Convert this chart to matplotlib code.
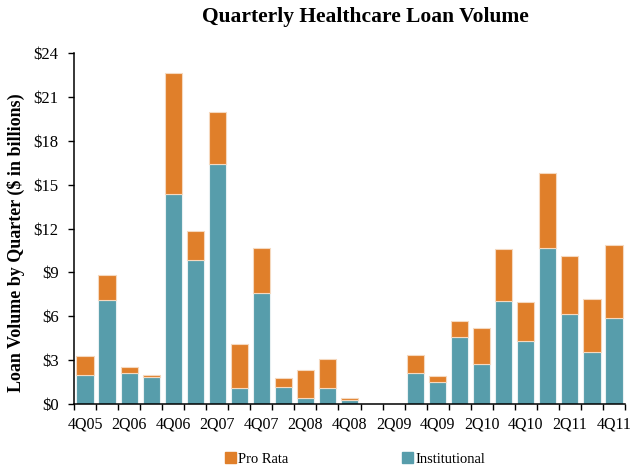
import numpy as np
import matplotlib.pyplot as plt
from matplotlib.patches import Patch

plt.rcParams['font.family'] = ['Liberation Serif', 'DejaVu Serif']

# quarters 4Q05 .. 4Q11
quarters = ['4Q05', '1Q06', '2Q06', '3Q06', '4Q06', '1Q07', '2Q07', '3Q07', '4Q07',
            '1Q08', '2Q08', '3Q08', '4Q08', '1Q09', '2Q09', '3Q09', '4Q09',
            '1Q10', '2Q10', '3Q10', '4Q10', '1Q11', '2Q11', '3Q11', '4Q11']
total = [3.3, 8.8, 2.5, 2.0, 22.6, 11.8, 19.95, 4.1, 10.7,
         1.75, 2.3, 3.05, 0.43, 0.0, 0.0, 3.32, 1.94,
         5.68, 5.2, 10.57, 6.97, 15.8, 10.1, 7.15, 10.86]
institutional = [2.0, 7.1, 2.1, 1.82, 14.36, 9.82, 16.4, 1.09, 7.59,
                 1.16, 0.41, 1.09, 0.27, 0.0, 0.0, 2.12, 1.48,
                 4.56, 2.71, 7.07, 4.28, 10.67, 6.13, 3.53, 5.86]
pro_rata = [t - i for t, i in zip(total, institutional)]

orange = '#E07F2A'
teal = '#579DAB'

fig = plt.figure(figsize=(6.3, 4.69), dpi=100)
ax = fig.add_axes([74 / 630, 1 - 404 / 469, 551 / 630, 351 / 469])

x = np.arange(len(quarters))
ax.bar(x, institutional, width=0.78, color=teal, edgecolor='#e8f0f2', linewidth=0.8)
ax.bar(x, pro_rata, width=0.78, bottom=institutional, color=orange,
       edgecolor='#f5d9bf', linewidth=0.8)

ax.set_xlim(-0.5, len(quarters) - 0.5)
ax.set_ylim(0, 24)
yt = np.arange(0, 25, 3)
ax.set_yticks(yt)
ax.set_yticklabels([r'\$%d' % v for v in yt], fontsize=12)
ax.tick_params(axis='y', direction='out', length=4, width=1, pad=7)

ax.set_xticks(x[::2])
ax.set_xticklabels(quarters[::2], fontsize=11.5)
ax.set_xticks(np.arange(-0.5, len(quarters)), minor=True)
ax.tick_params(axis='x', which='major', length=0, pad=9)
ax.tick_params(axis='x', which='minor', direction='out', length=4, width=1)

for s in ['top', 'right']:
    ax.spines[s].set_visible(False)
for s in ['left', 'bottom']:
    ax.spines[s].set_linewidth(1.1)

ax.set_ylabel(r'Loan Volume by Quarter (\$ in billions)', fontsize=13,
              fontweight='bold')
ax.yaxis.set_label_coords(-49 / 551, 0.46)
fig.text(365 / 630, 1 - 17 / 469, 'Quarterly Healthcare Loan Volume',
         ha='center', va='center', fontsize=15.5, fontweight='bold')

fig.legend(handles=[Patch(color=orange, label='Pro Rata')], loc='center left',
           bbox_to_anchor=(212 / 630, 1 - 459 / 469), frameon=False, fontsize=10.5,
           handlelength=0.75, handleheight=0.7, handletextpad=0.15)
fig.legend(handles=[Patch(color=teal, label='Institutional')], loc='center left',
           bbox_to_anchor=(389 / 630, 1 - 459 / 469), frameon=False, fontsize=10.5,
           handlelength=0.75, handleheight=0.7, handletextpad=0.15)

fig.savefig('out.png', dpi=100)
